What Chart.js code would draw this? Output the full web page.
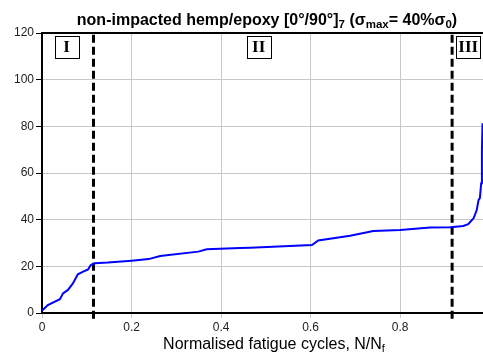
<!DOCTYPE html>
<html><head><meta charset="utf-8">
<script src="https://cdn.jsdelivr.net/npm/chart.js@4"></script>
<style>html,body{margin:0;padding:0;background:#fff}#wrap{width:483px;height:355px}</style>
</head><body><div id="wrap"><canvas id="c" width="483" height="355"></canvas></div>
<script>
const cycles = [0, 0.013, 0.04, 0.047, 0.058, 0.069, 0.08, 0.092, 0.103, 0.109, 0.118, 0.147, 0.2, 0.238, 0.264, 0.349, 0.368, 0.442, 0.465, 0.603, 0.617, 0.688, 0.74, 0.8, 0.867, 0.912, 0.941, 0.952, 0.964, 0.971, 0.975, 0.978, 0.981, 0.9826, 0.984];
const strain = [1, 3.4, 5.9, 8.4, 9.9, 12.7, 16.6, 17.7, 18.7, 20.6, 21.3, 21.6, 22.4, 23.1, 24.4, 26.3, 27.3, 27.9, 28.0, 29.1, 31.1, 33.1, 35.1, 35.6, 36.6, 36.8, 37.3, 38.1, 40.6, 44.1, 48.4, 49.2, 55.6, 69.9, 81.3];
const stageBounds = [0.115, 0.916];
const stageLabels = ['I', 'II', 'III'];
const stageLabelX = [0.055, 0.484, 0.952];
const xTicks = [0, 0.2, 0.4, 0.6, 0.8];
const yTicks = [0, 20, 40, 60, 80, 100, 120];

const datasets = [{
  data: cycles.map((x, i) => ({x, y: strain[i]})),
  borderColor: '#0000ff', borderWidth: 2, pointRadius: 0, tension: 0, fill: false
}];
stageBounds.forEach(b => datasets.push({
  data: [{x: b, y: -2.5}, {x: b, y: 120}],
  borderColor: '#000', borderWidth: 3, borderDash: [8, 4], pointRadius: 0, clip: false
}));

const decor = {
  id: 'decor',
  afterDatasetsDraw(chart) {
    const ctx = chart.ctx, a = chart.chartArea, xs = chart.scales.x, ys = chart.scales.y;
    ctx.save();
    ctx.strokeStyle = '#000'; ctx.lineWidth = 2;
    ctx.beginPath(); ctx.moveTo(a.left - 1, a.top); ctx.lineTo(a.right, a.top); ctx.stroke();
    // stage boxes
    ctx.font = 'bold 17px "Liberation Serif", "DejaVu Serif", serif';
    ctx.textAlign = 'center'; ctx.textBaseline = 'middle';
    stageLabels.forEach((t, i) => {
      const cx = xs.getPixelForValue(stageLabelX[i]), cy = ys.getPixelForValue(114);
      const w = 24, h = 22;
      ctx.fillStyle = '#fff';
      ctx.fillRect(cx - w / 2, cy - h / 2, w, h);
      ctx.lineWidth = 1; ctx.strokeStyle = '#000';
      ctx.strokeRect(Math.round(cx - w / 2) + 0.5, Math.round(cy - h / 2) + 0.5, w, h);
      ctx.fillStyle = '#000';
      ctx.fillText(t, cx, cy + 1);
    });
    // title with subscripts
    const parts = [
      ['non-impacted hemp/epoxy [0°/90°]', 0], ['7', 1], [' (σ', 0], ['max', 1], ['= 40%σ', 0], ['0', 1], [')', 0]
    ];
    const big = 'bold 16px "Liberation Sans", Arial, sans-serif', small = 'bold 11.5px "Liberation Sans", Arial, sans-serif';
    let total = 0;
    parts.forEach(p => { ctx.font = p[1] ? small : big; total += ctx.measureText(p[0]).width; });
    let x = 267 - total / 2;
    ctx.textAlign = 'left'; ctx.textBaseline = 'alphabetic'; ctx.fillStyle = '#000';
    parts.forEach(p => { ctx.font = p[1] ? small : big; ctx.fillText(p[0], x, p[1] ? 28 : 25); x += ctx.measureText(p[0]).width; });
    // x axis title
    const xp = [['Normalised fatigue cycles, N/N', 0], ['f', 1]];
    const b2 = '16px "Liberation Sans", Arial, sans-serif', s2 = '11px "Liberation Sans", Arial, sans-serif';
    total = 0;
    xp.forEach(p => { ctx.font = p[1] ? s2 : b2; total += ctx.measureText(p[0]).width; });
    x = 274 - total / 2;
    xp.forEach(p => { ctx.font = p[1] ? s2 : b2; ctx.fillText(p[0], x, p[1] ? 352 : 349); x += ctx.measureText(p[0]).width; });
    ctx.restore();
  }
};

new Chart(document.getElementById('c'), {
  type: 'line',
  data: { datasets },
  options: {
    responsive: false, animation: false,
    layout: { padding: { top: 33, right: 0, left: 0, bottom: 0 } },
    plugins: { legend: { display: false }, tooltip: { enabled: false } },
    scales: {
      x: {
        type: 'linear', min: 0, max: 0.985,
        afterFit(s) { s.height = 42; },
        afterBuildTicks(s) { s.ticks = xTicks.map(v => ({value: v})); },
        grid: { color: '#c8c8c8', lineWidth: 1, tickLength: 5, tickColor: '#c8c8c8' },
        border: { color: '#000', width: 2 },
        ticks: { color: '#222', font: { size: 12, family: '"Liberation Sans", Arial, sans-serif' }, padding: 2, maxRotation: 0,
          callback: v => String(+(+v).toFixed(1)) }
      },
      y: {
        min: 0, max: 120,
        afterFit(s) { s.width = 42; },
        afterBuildTicks(s) { s.ticks = yTicks.map(v => ({value: v})); },
        grid: { color: '#c8c8c8', lineWidth: 1, tickLength: 6, tickColor: '#000' },
        border: { color: '#000', width: 2 },
        ticks: { color: '#222', font: { size: 12, family: '"Liberation Sans", Arial, sans-serif' }, padding: 2 }
      }
    }
  },
  plugins: [decor]
});
</script></body></html>
